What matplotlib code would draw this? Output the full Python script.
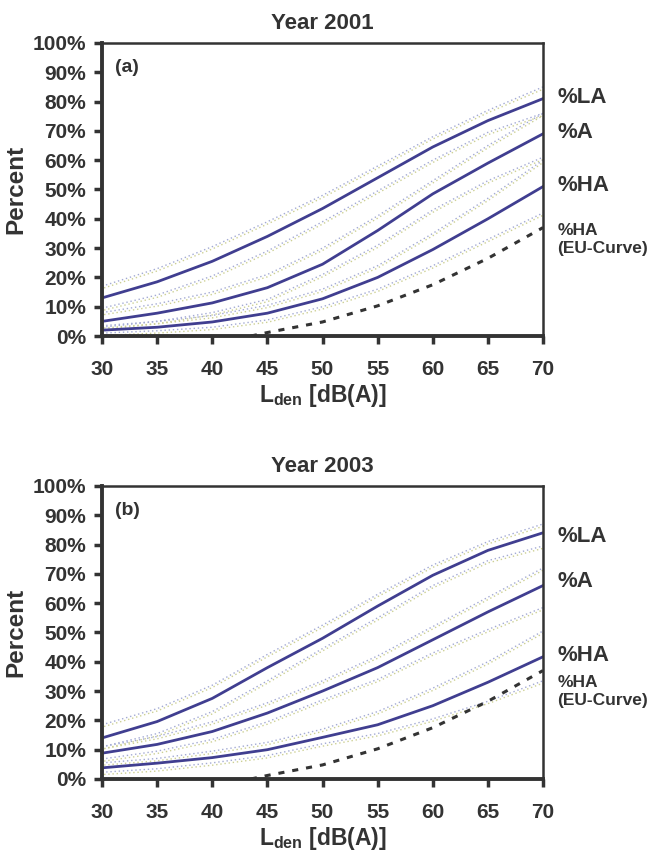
"""Annoyance exposure-response curves for 2001 and 2003 with the EU reference curve."""
import numpy as np
import matplotlib
matplotlib.use("Agg")
import matplotlib.pyplot as plt
from matplotlib.ticker import FuncFormatter

# noise level grid, dB(A)
LDEN = [30, 35, 40, 45, 50, 55, 60, 65, 70]

# year 2001 (panel a), percent
LA_01 = [13, 18.5, 25.5, 34, 43.5, 54, 64.5, 73.5, 81]
LA_01_UP = [17, 23, 30.5, 39, 48, 58, 68, 77, 85]
LA_01_LO = [9.5, 14, 20.5, 29, 39, 49.5, 60, 69.5, 76]
A_01 = [5, 7.8, 11.3, 16.5, 24.5, 36, 48.5, 59, 69]
A_01_UP = [8, 11, 15, 21, 30, 41, 53, 65, 76]
A_01_LO = [3, 5, 8, 12.5, 21, 31, 43, 53, 61]
HA_01 = [2, 3, 4.8, 7.8, 12.7, 20, 29.5, 40, 51]
HA_01_UP = [3.5, 5, 7, 10.5, 16, 24, 35, 47, 60]
HA_01_LO = [1, 1.8, 3, 5.5, 10, 16, 24, 33, 42]

# year 2003 (panel b), percent
LA_03 = [14, 19.6, 27.5, 38, 48, 59, 69.5, 78, 84]
LA_03_UP = [18.5, 24, 32, 42.5, 52.5, 63, 73, 81, 87]
LA_03_LO = [11, 15.5, 23, 33.5, 44.5, 55, 66, 74.5, 79.5]
A_03 = [8.8, 11.8, 16.2, 22.5, 30, 38, 47.5, 57, 66]
A_03_UP = [11, 14.5, 19.5, 26, 33.5, 42, 52, 62, 72]
A_03_LO = [6.8, 9.5, 13.5, 19.5, 27, 34, 43, 51, 58.5]
HA_03 = [3.8, 5.4, 7.3, 10, 14.2, 18.5, 25, 33, 41.7]
HA_03_UP = [5.5, 7, 9.5, 12.5, 17, 23, 31, 40, 50.5]
HA_03_LO = [2.3, 3.5, 5.5, 8, 12, 15.5, 20.5, 26.5, 33.5]

# EU reference curve for %HA
EU_LDEN = [43.5, 45, 50, 55, 60, 65, 70]
EU_HA = [0, 1.2, 4.8, 10.3, 17.5, 26.5, 37]

SOLID = "#403e90"
DOT_B = "#a3aad4"
DOT_G = "#cdd094"
INK = "#333333"

plt.rcParams.update({
    "font.family": "Liberation Sans", "font.weight": "bold",
    "mathtext.fontset": "custom", "mathtext.rm": "Liberation Sans",
    "mathtext.bf": "Liberation Sans:bold", "mathtext.it": "Liberation Sans:bold",
})


def panel(ax, title, tag, curves, labels):
    x = np.array(LDEN)
    for mid, up, lo in curves:
        for band in (up, lo):
            ax.plot(x, band, ls=(0, (1, 2)), color=DOT_B, lw=1.0)
            ax.plot(x, np.array(band) - 0.8, ls=(1.5, (1, 2)), color=DOT_G, lw=1.0)
        ax.plot(x, mid, color=SOLID, lw=2.0)
    ax.plot(EU_LDEN, EU_HA, ls=(0, (2.0, 2.6)), color=INK, lw=2.2)

    ax.set_xlim(30, 70)
    ax.set_ylim(0, 100)
    ax.set_xticks(range(30, 71, 5))
    ax.set_yticks(range(0, 101, 10))
    ax.yaxis.set_major_formatter(FuncFormatter(lambda v, _: f"{v:.0f}%"))
    ax.tick_params(direction="out", length=5.5, width=2.5, color=INK,
                   labelsize=15, labelcolor=INK)
    ax.tick_params(axis="y", pad=6)
    ax.tick_params(axis="x", pad=12)
    for s in ("left", "bottom"):
        ax.spines[s].set_linewidth(2.8)
    for s in ("top", "right"):
        ax.spines[s].set_linewidth(1.8)
    for s in ax.spines.values():
        s.set_color(INK)
    for lab in ax.get_xticklabels() + ax.get_yticklabels():
        lab.set_fontweight("bold")

    ax.set_title(title, fontsize=16, fontweight="bold", color=INK, pad=10)
    ax.set_ylabel("Percent", fontsize=17.5, fontweight="bold", color=INK, labelpad=4)
    ax.set_xlabel(r"$\mathbf{L_{den}}$ [dB(A)]", fontsize=16.5, fontweight="bold",
                  color=INK, labelpad=2)
    ax.text(0.03, 0.945, tag, transform=ax.transAxes, fontsize=14, fontweight="bold",
            color=INK, va="top", ha="left")
    for y, txt, fs in labels:
        ax.text(1.032, y, txt, transform=ax.get_yaxis_transform(), fontsize=fs,
                fontweight="bold", color=INK, va="center", ha="left", linespacing=1.25)


def main():
    fig = plt.figure(figsize=(6.47, 8.52), dpi=100)
    axA = fig.add_axes([0.1577, 0.6056, 0.6816, 0.344])
    axB = fig.add_axes([0.1577, 0.0857, 0.6816, 0.344])

    panel(axA, "Year 2001", "(a)",
          [(LA_01, LA_01_UP, LA_01_LO), (A_01, A_01_UP, A_01_LO), (HA_01, HA_01_UP, HA_01_LO)],
          [(81.5, "%LA", 16), (69.4, "%A", 16), (51.5, "%HA", 16),
           (33, "%HA\n(EU-Curve)", 12.5)])
    panel(axB, "Year 2003", "(b)",
          [(LA_03, LA_03_UP, LA_03_LO), (A_03, A_03_UP, A_03_LO), (HA_03, HA_03_UP, HA_03_LO)],
          [(82.6, "%LA", 16), (67.3, "%A", 16), (42.3, "%HA", 16),
           (29.7, "%HA\n(EU-Curve)", 12.5)])

    fig.savefig("out.png", dpi=100)
    plt.close(fig)


if __name__ == "__main__":
    main()
